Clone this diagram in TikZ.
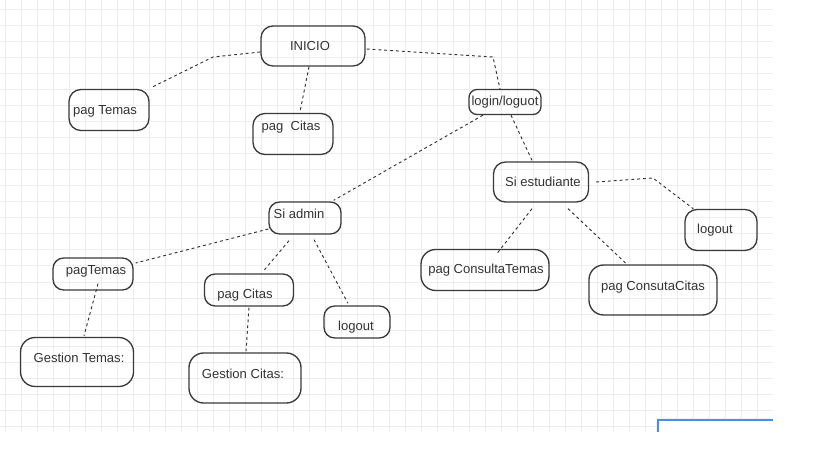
\documentclass[tikz,border=0pt]{standalone}
\usepackage{fontspec}
\setmainfont{Liberation Sans}
\usetikzlibrary{calc}
\definecolor{gridgray}{HTML}{EDEDED}
\definecolor{boxgray}{HTML}{3A3A3A}
\definecolor{inkgray}{HTML}{333333}
\definecolor{selblue}{HTML}{4A90E8}

\begin{document}
\begin{tikzpicture}[x=0.75pt, y=-0.75pt,
  box/.style={draw=boxgray, line width=1pt, inner sep=0pt},
  link/.style={draw=inkgray, line width=0.7pt, dash pattern=on 2.2pt off 2.2pt},
  lab/.style={font=\fontsize{9.8}{12}\selectfont, text=inkgray, inner sep=0pt}]

\useasboundingbox (0,0) rectangle (819,460);

% grid
\begin{scope}
  \clip (0,0) rectangle (773,432);
  \foreach \gx in {0,...,47}
    \draw[gridgray, line width=0.75pt] (5.3+16*\gx,0) -- (5.3+16*\gx,432);
  \foreach \gy in {0,...,26}
    \draw[gridgray, line width=0.75pt] (0,10+16*\gy) -- (773,10+16*\gy);
\end{scope}

% boxes: name / centre / size / corner / text position / text
\foreach \nm/\cx/\cy/\w/\h/\r/\tx/\ty/\lab in {
  inicio/313/46/104/40/9/310/46/INICIO,
  temas/109/110/80/41/9/105/111/pag Temas,
  citas/293/134/80/41/9/291/127/{pag\ \ Citas},
  login/505/102/72/25/6/505/102/{login/loguot},
  estud/541/182/95/40/9/543/182/Si estudiante,
  outest/721/230/72/41/9/715/230/logout,
  admin/305/218/72/32/8/299/214/Si admin,
  atemas/93/274/80/32/8/96/271/pagTemas,
  acitas/249/290/89/32/8/245/295/pag Citas,
  outadm/357/322/66/32/8/356/327/logout,
  gtemas/77/362/113/49/11/79/358/Gestion Temas:,
  gcitas/245/378/112/50/11/243/374/Gestion Citas:,
  ctemas/485/270/128/41/11/486/270/pag ConsultaTemas,
  ccitas/653/290/128/50/11/653/287/pag ConsutaCitas
}{
  \node[box, minimum width=\w*0.75pt, minimum height=\h*0.75pt,
        rounded corners=\r pt] (\nm) at (\cx,\cy) {};
  \node[lab] (\nm-t) at (\tx,\ty) {\lab};
}

% bends
\coordinate (k1) at (213,57);
\coordinate (k2) at (493,57);
\coordinate (k3) at (653,178);

\draw[link] ($(inicio.west)+(0,6)$) -- (k1) -- ($(temas.north east)+(1,-1)$);
\draw[link] ($(inicio.south)+(-4,0)$) -- ($(citas.north)+(7,-1)$);
\draw[link] ($(inicio.east)+(1,3)$) -- (k2) -- ($(login.north)+(-5,0)$);
\draw[link] ($(login.south)+(-22,0)$) -- ($(admin.north east)+(-8,-1)$);
\draw[link] ($(login.south)+(6,0)$) -- ($(estud.north)+(-9,-1)$);
\draw[link] ($(estud.east)+(7,0)$) -- (k3) -- ($(outest.north west)+(9,0)$);
\draw[link] ($(estud.south)+(-9,6)$) -- ($(ctemas.north)+(11,6)$);
\draw[link] ($(estud.south)+(27,6)$) -- ($(ccitas.north)+(-26,0)$);
\draw[link] ($(admin.west)+(0,11)$) -- ($(atemas.east)+(2,-11)$);
\draw[link] ($(admin.south)+(-16,6)$) -- ($(acitas.north)+(15,-3)$);
\draw[link] ($(admin.south)+(9,5)$) -- ($(outadm.north)+(-9,-2)$);
\draw[link] ($(atemas.south)+(5,-7)$) -- ($(gtemas.north)+(7,-1)$);
\draw[link] ($(acitas.south)+(0,1)$) -- ($(gcitas.north)+(1,-1)$);

% selection frame, bottom right
\fill[black!6] (656,418) rectangle (773,432);
\fill[white] (658,420) rectangle (773,432);
\draw[selblue, line width=1.1pt] (658,432) -- (658,420) -- (773,420);

\end{tikzpicture}
\end{document}
